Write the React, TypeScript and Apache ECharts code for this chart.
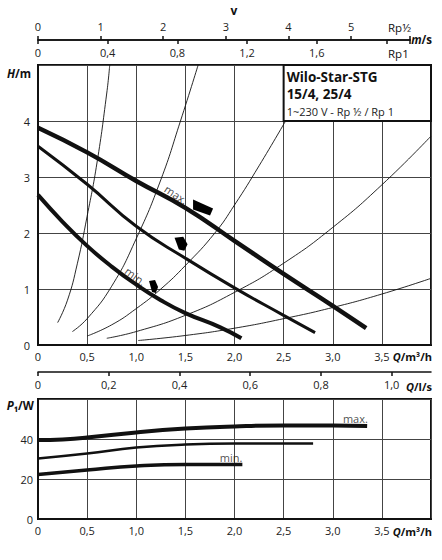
import { useEffect, useRef } from 'react';
import * as echarts from 'echarts';

const FONT = "'Open Sans', 'DejaVu Sans', sans-serif";

// pump curves H(Q): [Q m³/h, H m]
const hMax = [[0, 3.88], [0.5, 3.44], [1.0, 2.93], [1.5, 2.45], [2.0, 1.86], [2.5, 1.27], [3.0, 0.7], [3.34, 0.3]];
const hMid = [[0, 3.55], [0.5, 2.87], [1.0, 2.12], [1.5, 1.55], [2.0, 1.02], [2.5, 0.53], [2.82, 0.22]];
const hMin = [[0, 2.68], [0.25, 2.2], [0.5, 1.77], [0.75, 1.4], [1.0, 1.08], [1.25, 0.8], [1.5, 0.57], [1.85, 0.32], [2.07, 0.12]];

// system curves (thin)
const sys1 = [[0.2, 0.4], [0.3, 0.8], [0.4, 1.45], [0.5, 2.3], [0.6, 3.25], [0.7, 4.5], [0.73, 5.0]];
const sys2 = [[0.35, 0.24], [0.5, 0.47], [0.75, 1.05], [1.0, 1.9], [1.25, 2.95], [1.45, 4.0], [1.63, 5.0]];
const sys3 = [[0.5, 0.16], [0.75, 0.36], [1.0, 0.65], [1.25, 1.0], [1.5, 1.42], [1.8, 2.0], [2.0, 2.5], [2.25, 3.2], [2.52, 4.0]];
const sys4 = [[0.7, 0.12], [1.0, 0.24], [1.5, 0.53], [2.0, 0.94], [2.5, 1.46], [3.0, 2.1], [3.5, 2.86], [4.0, 3.73]];
const sys5 = [[1.02, 0.08], [1.5, 0.17], [2.0, 0.3], [2.5, 0.47], [3.0, 0.67], [3.5, 0.91], [4.0, 1.19]];

// power curves P1(Q): [Q m³/h, W]
const pMax = [[0, 39.5], [0.25, 39.8], [0.5, 40.7], [1.0, 43.3], [1.5, 45.2], [2.0, 46.3], [2.5, 46.8], [3.0, 46.8], [3.35, 46.5]];
const pMid = [[0, 30.3], [0.5, 32.8], [1.0, 35.7], [1.5, 37.2], [2.0, 37.7], [2.5, 37.7], [2.8, 37.7]];
const pMin = [[0, 22.3], [0.5, 24.5], [1.0, 26.5], [1.5, 27.3], [2.08, 27.2]];

// speed-switch markers and curve labels
const markerPoints = [[1.68, 2.455], [1.456, 1.81], [1.176, 1.045]];
const markerSizes = [[20, 16], [13, 14], [9, 13]];
const hLabels = [{ pos: [1.405, 2.69], text: 'max.', rot: -33 }, { pos: [0.993, 1.23], text: 'min.', rot: -36 }];
const pLabels = [{ pos: [3.23, 50.5], text: 'max.' }, { pos: [1.966, 30.8], text: 'min.' }];

// axis ranges
const Q_MAX = 4;
const H_MAX = 5;
const P_MAX = 60;
const LS_MAX = Q_MAX / 3.6;
const V_RP1_MAX = 2.135;
const V_RP12_MAX = 5.942;

const MARKER_WIDE = 'path://M0,0 L20,9 L17,16 L0,10 Z';
const MARKER_SMALL = 'path://M0,1 L8,0 L12,7 L9,13 L4,12 Z';

const comma = (v: number) => (v === 0 ? '0' : v.toFixed(1).replace('.', ','));
const INK = '#111';
const GRIDLINE = '#444';

function qAxis(gridIndex: number) {
  return {
    gridIndex,
    type: 'value',
    min: 0,
    max: Q_MAX,
    interval: 0.5,
    axisLine: { show: true, onZero: false, lineStyle: { color: INK, width: 2 } },
    axisTick: { show: false },
    splitLine: { show: true, lineStyle: { color: GRIDLINE, width: 1 } },
    axisLabel: {
      margin: 6,
      fontSize: 11,
      color: '#222',
      fontFamily: FONT,
      formatter: (v: number) => (v >= Q_MAX ? '' : comma(v)),
    },
  };
}

function velocityAxis(gridIndex: number, max: number, interval: number, inside: boolean, hideAbove: number) {
  return {
    gridIndex,
    type: 'value',
    position: 'top',
    min: 0,
    max,
    interval,
    axisLine: { show: true, onZero: false, lineStyle: { color: INK, width: 1.5 } },
    axisTick: { show: true, inside, length: 4, lineStyle: { color: INK, width: 1.5 } },
    splitLine: { show: false },
    axisLabel: {
      inside,
      margin: inside ? 7 : 8,
      fontSize: 11,
      color: '#222',
      fontFamily: FONT,
      formatter: (v: number) => (v > hideAbove ? '' : inside ? comma(v) : String(v)),
    },
  };
}

function curve(data: number[][], width: number, xi = 0, yi = 0) {
  return {
    type: 'line',
    xAxisIndex: xi,
    yAxisIndex: yi,
    data,
    smooth: true,
    symbol: 'none',
    lineStyle: { color: INK, width, cap: 'butt' },
    silent: true,
  };
}

function label(text: string, x: number, y: number, align: string, bold = true, italicFirst = false, size = 11.5) {
  const style: any = {
    x,
    y,
    align,
    textAlign: align,
    verticalAlign: 'middle',
    textVerticalAlign: 'middle',
    fill: '#111',
    fontFamily: FONT,
    fontSize: size,
    fontWeight: bold ? 'bold' : 'normal',
  };
  if (italicFirst) {
    style.text = `{i|${text[0]}}{n|${text.slice(1)}}`;
    style.rich = {
      i: { fontStyle: 'italic', fontWeight: 'bold', fontSize: size, fontFamily: FONT, fill: '#111' },
      n: { fontWeight: 'bold', fontSize: size, fontFamily: FONT, fill: '#111' },
    };
  } else {
    style.text = text;
  }
  return { type: 'text', style, z: 10 };
}

export default function App() {
  const ref = useRef<HTMLDivElement>(null);

  useEffect(() => {
    document.body.style.margin = '0';
    if (!ref.current) return;
    const chart = echarts.init(ref.current, undefined, { renderer: 'svg' });

    const option: any = {
      animation: false,
      backgroundColor: '#fff',
      textStyle: { fontFamily: FONT },
      grid: [
        { left: 38, top: 65, width: 393, height: 280, show: true, borderColor: INK, borderWidth: 2 },
        { left: 38, top: 399, width: 393, height: 120, show: true, borderColor: INK, borderWidth: 2 },
        { left: 38, top: 40, width: 372, height: 10 },
        { left: 38, top: 40, width: 372, height: 10 },
      ],
      xAxis: [
        qAxis(0),
        {
          gridIndex: 0,
          type: 'value',
          position: 'bottom',
          offset: 27,
          min: 0,
          max: LS_MAX,
          interval: 0.2,
          axisLine: { show: true, onZero: false, lineStyle: { color: INK, width: 1.5 } },
          axisTick: { show: true, length: 4, lineStyle: { color: INK, width: 1.5 } },
          splitLine: { show: false },
          axisLabel: { margin: 7, fontSize: 11, color: '#222', fontFamily: FONT, showMaxLabel: false, formatter: comma },
        },
        velocityAxis(2, V_RP1_MAX, 0.4, true, 1.7),
        velocityAxis(3, V_RP12_MAX, 1, false, 5.5),
        qAxis(1),
      ],
      yAxis: [
        {
          gridIndex: 0,
          type: 'value',
          min: 0,
          max: H_MAX,
          interval: 1,
          axisLine: { show: true, onZero: false, lineStyle: { color: INK, width: 2 } },
          axisTick: { show: false },
          splitLine: { show: true, lineStyle: { color: GRIDLINE, width: 1 } },
          axisLabel: {
            margin: 8,
            fontSize: 11,
            color: '#222',
            fontFamily: FONT,
            formatter: (v: number) => (v >= H_MAX ? '' : String(v)),
          },
        },
        {
          gridIndex: 1,
          type: 'value',
          min: 0,
          max: P_MAX,
          interval: 20,
          axisLine: { show: true, onZero: false, lineStyle: { color: INK, width: 2 } },
          axisTick: { show: false },
          splitLine: { show: true, lineStyle: { color: GRIDLINE, width: 1 } },
          axisLabel: {
            margin: 5,
            fontSize: 11,
            color: '#222',
            fontFamily: FONT,
            formatter: (v: number) => (v >= P_MAX ? '' : String(v)),
          },
        },
        { gridIndex: 2, type: 'value', show: false, min: 0, max: 1 },
        { gridIndex: 3, type: 'value', show: false, min: 0, max: 1 },
      ],
      series: [
        curve(sys1, 0.9),
        curve(sys2, 0.9),
        curve(sys3, 0.9),
        curve(sys4, 0.9),
        curve(sys5, 0.9),
        curve(hMid, 3),
        curve(hMin, 4),
        {
          ...curve(hMax, 4.5),
          markArea: {
            silent: true,
            itemStyle: { color: '#fff', borderColor: INK, borderWidth: 2 },
            label: {
              show: true,
              position: 'insideTopLeft',
              distance: 4,
              formatter: '{a|Wilo-Star-STG}\n{a|15/4, 25/4}\n{b|1~230 V - Rp ½ / Rp 1}',
              rich: {
                a: { fontSize: 13.5, fontWeight: 'bold', lineHeight: 17, color: INK, fontFamily: FONT },
                b: { fontSize: 11, lineHeight: 18, color: '#222', fontFamily: FONT },
              },
            },
            data: [[{ coord: [2.5, 4] }, { coord: [Q_MAX, H_MAX] }]],
          },
        },
        {
          type: 'scatter',
          xAxisIndex: 0,
          yAxisIndex: 0,
          itemStyle: { color: '#000', opacity: 1 },
          silent: true,
          z: 5,
          data: markerPoints.map((p, i) => ({
            value: p,
            symbol: i === 0 ? MARKER_WIDE : MARKER_SMALL,
            symbolSize: markerSizes[i],
          })),
        },
        {
          type: 'scatter',
          xAxisIndex: 0,
          yAxisIndex: 0,
          symbolSize: 1,
          itemStyle: { color: 'transparent' },
          silent: true,
          data: hLabels.map((l) => ({
            value: l.pos,
            label: { show: true, position: 'inside', formatter: l.text, rotate: l.rot, fontSize: 11, color: INK, fontFamily: FONT },
          })),
        },
        curve(pMax, 4, 4, 1),
        curve(pMid, 2.5, 4, 1),
        curve(pMin, 3.5, 4, 1),
        {
          type: 'scatter',
          xAxisIndex: 4,
          yAxisIndex: 1,
          symbolSize: 1,
          itemStyle: { color: 'transparent' },
          silent: true,
          data: pLabels.map((l) => ({
            value: l.pos,
            label: { show: true, position: 'inside', formatter: l.text, fontSize: 11, color: '#222', fontFamily: FONT },
          })),
        },
      ],
      graphic: [
        label('v', 234, 10, 'center', true, false, 12),
        label('Rp½', 388, 27, 'left', false),
        label('m/s', 432, 39, 'right', true, true),
        label('Rp1', 388, 53, 'left', false),
        label('H/m', 31, 73, 'right', true, true),
        label('Q/m³/h', 432, 356, 'right', true, true, 11),
        label('Q/l/s', 432, 386, 'right', true, true, 11),
        label('P₁/W', 34, 405, 'right', true, true),
        label('Q/m³/h', 432, 531, 'right', true, true, 11),
      ],
    };

    chart.setOption(option);
    return () => chart.dispose();
  }, []);

  return <div ref={ref} style={{ width: 442, height: 560 }} />;
}
